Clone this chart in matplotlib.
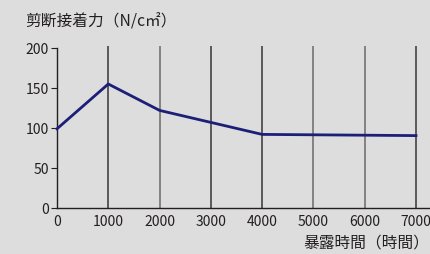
import matplotlib
matplotlib.use("Agg")
import matplotlib.pyplot as plt

hours = [0, 1000, 2000, 3000, 4000, 5000, 6000, 7000]
strength = [99, 155, 122, 107, 92, 91.5, 91, 90.5]
yticks = [0, 50, 100, 150, 200]

plt.rcParams['font.family'] = ['Noto Sans CJK JP', 'DejaVu Sans']

bg = '#dcdddc'
fig = plt.figure(figsize=(4.3, 2.55), dpi=100, facecolor=bg)
ax = fig.add_axes([57/430, 46/255, 373/430, 162/255], facecolor=bg)

grid_colors = ['#3a3436', '#6e6869', '#3a3436', '#3a3436', '#6e6869', '#6e6869', '#3a3436']
for h, c in zip(hours[1:], grid_colors):
    ax.axvline(h, color=c, lw=1.1, zorder=1)

ax.plot(hours, strength, color='#1c1f78', lw=2.0, zorder=3, clip_on=False)

ax.set_xlim(0, 7273)
ax.set_ylim(0, 202.5)
ax.set_xticks(hours)
ax.set_yticks(yticks)
ax.tick_params(axis='x', length=0, pad=4, labelsize=10, colors='#231f20')
ax.tick_params(axis='y', length=4, width=0.8, pad=2, labelsize=10, colors='#231f20')
for s in ['top', 'right']:
    ax.spines[s].set_visible(False)
ax.spines['left'].set_bounds(0, 200)
for s in ['left', 'bottom']:
    ax.spines[s].set_color('#231f20')
    ax.spines[s].set_linewidth(1.0)

fig.text(25/430, 1 - 22/255, '剪断接着力（N/c㎡）', fontsize=11.3, color='#231f20',
         va='center', ha='left')
fig.text(0.998, 1 - 243/255, '暴露時間（時間）', fontsize=11.3, color='#231f20',
         va='center', ha='right')

fig.savefig('out.png', dpi=100, facecolor=bg)
